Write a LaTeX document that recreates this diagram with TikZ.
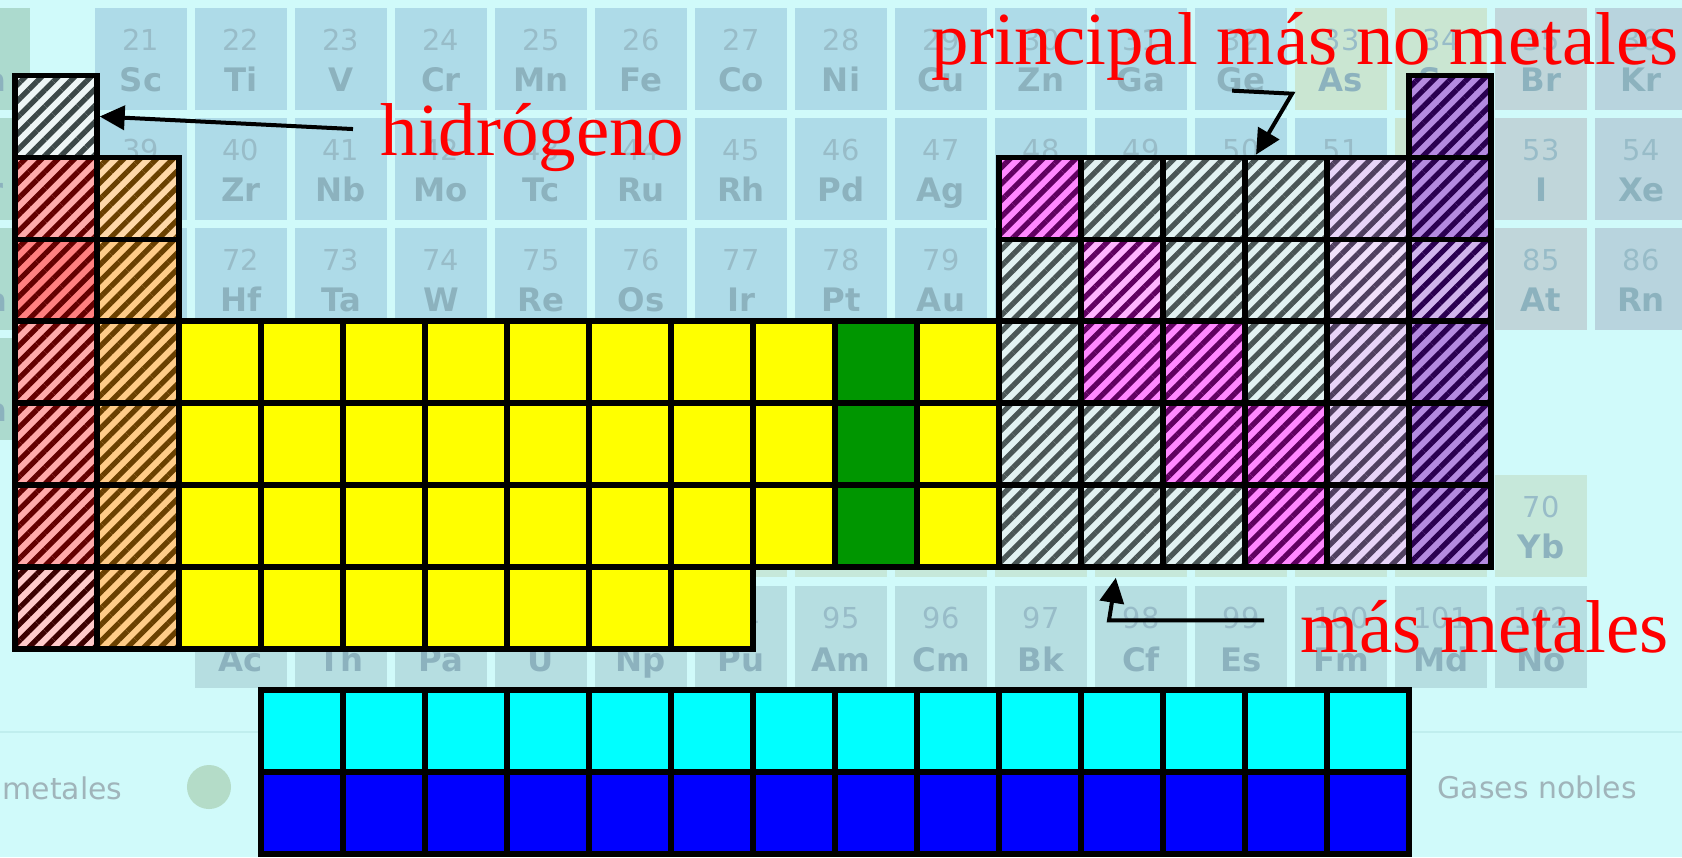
\documentclass[tikz,border=0pt]{standalone}
\usepackage{fontspec}
\setmainfont{Liberation Serif}
\newfontfamily\tablefont{DejaVu Sans}
\usetikzlibrary{arrows.meta, patterns.meta}

\definecolor{sky}{RGB}{208,250,250}
\definecolor{bgA}{RGB}{174,219,232}
\definecolor{bgB}{RGB}{202,230,210}
\definecolor{bgC}{RGB}{192,214,218}
\definecolor{bgD}{RGB}{184,212,222}
\definecolor{bgE}{RGB}{172,218,206}
\definecolor{bgLa}{RGB}{198,232,218}
\definecolor{bgAc}{RGB}{182,222,225}
\definecolor{bgnum}{RGB}{152,188,200}
\definecolor{bgsym}{RGB}{140,178,190}
\definecolor{legendtext}{RGB}{160,180,186}
\definecolor{dotgreen}{RGB}{180,220,200}
\definecolor{sepline}{RGB}{192,238,238}
\definecolor{leafgreen}{RGB}{0,150,0}
\definecolor{cellyellow}{RGB}{255,255,0}
\definecolor{cellcyan}{RGB}{0,255,255}
\definecolor{cellblue}{RGB}{0,0,255}
% hatched cells: fill / line colours
\definecolor{hfill}{RGB}{238,246,246}
\definecolor{hline}{RGB}{60,72,72}
\definecolor{pinkA}{RGB}{255,170,170}
\definecolor{pinkB}{RGB}{255,202,202}
\definecolor{redA}{RGB}{255,128,128}
\definecolor{redD}{RGB}{100,0,0}
\definecolor{redE}{RGB}{60,0,0}
\definecolor{orangeA}{RGB}{255,216,168}
\definecolor{orangeB}{RGB}{255,204,136}
\definecolor{brownD}{RGB}{106,64,0}
\definecolor{fm}{RGB}{255,136,255}
\definecolor{lm}{RGB}{96,0,96}
\definecolor{fn}{RGB}{255,180,255}
\definecolor{ln}{RGB}{96,0,96}
\definecolor{fg}{RGB}{226,242,242}
\definecolor{lg}{RGB}{74,86,86}
\definecolor{fl}{RGB}{232,212,248}
\definecolor{ll}{RGB}{80,64,96}
\definecolor{fk}{RGB}{240,224,250}
\definecolor{lk}{RGB}{80,64,96}
\definecolor{fp}{RGB}{180,138,224}
\definecolor{lp}{RGB}{42,0,80}
\definecolor{fq}{RGB}{208,180,236}
\definecolor{lq}{RGB}{42,0,80}

\begin{document}
\begin{tikzpicture}[
    x=0.01cm, y=-0.01cm,
    cell/.style={draw, line width=0.055cm, minimum size=0.82cm, inner sep=0pt},
    hatch/.style 2 args={preaction={fill=#1},
        pattern={Lines[angle=45, distance=3.3pt, line width=1.5pt]}, pattern color=#2},
    tile/.style={minimum width=0.92cm, minimum height=1.02cm, inner sep=0pt},
    num/.style={font=\tablefont\fontsize{8.2pt}{9pt}\selectfont, text=bgnum,
        inner sep=0pt, text height=0.21cm, text depth=0pt},
    sym/.style={font=\tablefont\bfseries\fontsize{9.2pt}{10pt}\selectfont, text=bgsym,
        inner sep=0pt, text height=0.23cm, text depth=0pt},
    legend/.style={font=\tablefont\fontsize{8.5pt}{10pt}\selectfont, text=legendtext,
        inner sep=0pt, anchor=west},
    note/.style={font=\fontsize{21.3pt}{25pt}\selectfont, text=red, inner sep=0pt,
        anchor=base west},
    arrow/.style={-{Triangle[length=0.25cm, width=0.24cm]}, line width=0.04cm}
]
\useasboundingbox (0,0) rectangle (1682,857);
\clip (0,0) rectangle (1682,857);
\fill[sky] (0,0) rectangle (1682,857);

% faded table behind
\foreach \n/\s [count=\r from 0] in {20/Ca,38/Sr,56/Ba,88/Ra} {
  \node[tile, fill=bgE] (t-\n) at (-16, {59+\r*110}) {};
  \node[num] (n-\n) at ([yshift=0.19cm]t-\n.center) {\n};
  \node[sym] (s-\n) at ([yshift=-0.21cm]t-\n.center) {\s};
}
\foreach \n/\s/\c [count=\k from 3] in {21/Sc/bgA,22/Ti/bgA,23/V/bgA,24/Cr/bgA,25/Mn/bgA,
    26/Fe/bgA,27/Co/bgA,28/Ni/bgA,29/Cu/bgA,30/Zn/bgA,31/Ga/bgA,32/Ge/bgA,33/As/bgB,
    34/Se/bgB,35/Br/bgC,36/Kr/bgD} {
  \node[tile, fill=\c] (t-\n) at ({141+(\k-3)*100}, 59) {};
  \node[num] (n-\n) at ([yshift=0.19cm]t-\n.center) {\n};
  \node[sym] (s-\n) at ([yshift=-0.21cm]t-\n.center) {\s};
}
\foreach \n/\s/\c [count=\k from 3] in {39/Y/bgA,40/Zr/bgA,41/Nb/bgA,42/Mo/bgA,43/Tc/bgA,
    44/Ru/bgA,45/Rh/bgA,46/Pd/bgA,47/Ag/bgA,48/Cd/bgA,49/In/bgA,50/Sn/bgA,51/Sb/bgA,
    52/Te/bgB,53/I/bgC,54/Xe/bgD} {
  \node[tile, fill=\c] (t-\n) at ({141+(\k-3)*100}, 169) {};
  \node[num] (n-\n) at ([yshift=0.19cm]t-\n.center) {\n};
  \node[sym] (s-\n) at ([yshift=-0.21cm]t-\n.center) {\s};
}
\node[tile, fill=bgA] (t-lant) at (141, 279) {};
\foreach \n/\s/\c [count=\k from 4] in {72/Hf/bgA,73/Ta/bgA,74/W/bgA,75/Re/bgA,76/Os/bgA,
    77/Ir/bgA,78/Pt/bgA,79/Au/bgA,80/Hg/bgA,81/Tl/bgA,82/Pb/bgA,83/Bi/bgA,84/Po/bgA,
    85/At/bgC,86/Rn/bgD} {
  \node[tile, fill=\c] (t-\n) at ({141+(\k-3)*100}, 279) {};
  \node[num] (n-\n) at ([yshift=0.19cm]t-\n.center) {\n};
  \node[sym] (s-\n) at ([yshift=-0.21cm]t-\n.center) {\s};
}
\foreach \n/\s [count=\k from 4] in {57/La,58/Ce,59/Pr,60/Nd,61/Pm,62/Sm,63/Eu,64/Gd,
    65/Tb,66/Dy,67/Ho,68/Er,69/Tm,70/Yb} {
  \node[tile, fill=bgLa] (t-\n) at ({141+(\k-3)*100}, 526) {};
  \node[num] (n-\n) at ([yshift=0.19cm]t-\n.center) {\n};
  \node[sym] (s-\n) at ([yshift=-0.21cm]t-\n.center) {\s};
}
\foreach \n/\s [count=\k from 4] in {89/Ac,90/Th,91/Pa,92/U,93/Np,94/Pu,95/Am,96/Cm,
    97/Bk,98/Cf,99/Es,100/Fm,101/Md,102/No} {
  \node[tile, fill=bgAc] (t-\n) at ({141+(\k-3)*100}, 637) {};
  \node[num] (n-\n) at ([yshift=0.19cm]t-\n.center) {\n};
  \node[sym] (s-\n) at ([yshift=-0.23cm]t-\n.center) {\s};
}
\draw[sepline, line width=0.02cm] (0,732) -- (1682,732);
\node[legend] (lgmet) at (2,788) {metales};
\node[circle, fill=dotgreen, minimum size=0.44cm, inner sep=0pt] (lgdot) at (209,787) {};
\node[legend] (lgnob) at (1437,787) {Gases nobles};

% hydrogen, groups 1 and 2
\node[cell, hatch={hfill}{hline}] (c-1-1) at (56,116.5) {};
\foreach \r/\fa/\la/\fb in {2/pinkA/redD/orangeA, 3/redA/redD/orangeB, 4/pinkA/redD/orangeB,
    5/pinkA/redD/orangeB, 6/pinkA/redD/orangeB, 7/pinkB/redE/orangeB} {
  \node[cell, hatch={\fa}{\la}] (c-\r-1) at (56, {116.5+(\r-1)*81.9}) {};
  \node[cell, hatch={\fb}{brownD}] (c-\r-2) at (138, {116.5+(\r-1)*81.9}) {};
}

% transition block
\foreach \r in {4,5,6} {
  \foreach \k in {3,4,5,6,7,8,9,10,12}
    \node[cell, fill=cellyellow] (c-\r-\k) at ({55.8+(\k-1)*82}, {116.5+(\r-1)*81.9}) {};
  \node[cell, fill=leafgreen] (c-\r-11) at ({55.8+10*82}, {116.5+(\r-1)*81.9}) {};
}
\foreach \k in {3,...,9}
  \node[cell, fill=cellyellow] (c-7-\k) at ({55.8+(\k-1)*82}, {116.5+6*81.9}) {};

% p block
\node[cell, hatch={fp}{lp}] (c-1-18) at ({55.8+17*82}, 116.5) {};
\foreach \r/\row in {2/{m,g,g,g,l,p}, 3/{g,n,g,g,k,q}, 4/{g,m,m,g,l,p},
    5/{g,g,m,m,l,p}, 6/{g,g,g,m,l,p}} {
  \foreach \t [count=\k from 13] in \row
    \node[cell, hatch={f\t}{l\t}] (c-\r-\k) at ({55.8+(\k-1)*82}, {116.5+(\r-1)*81.9}) {};
}

% f block
\foreach \k in {4,...,17} {
  \node[cell, fill=cellcyan] (f-1-\k) at ({55.8+(\k-1)*82}, 731) {};
  \node[cell, fill=cellblue] (f-2-\k) at ({55.8+(\k-1)*82}, 813) {};
}

% notes
\node[note] (hid) at (380,155) {hidrógeno};
\node[note] (pri) at (931,64) {principal más no metales};
\node[note] (mas) at (1300,652) {más metales};

\draw[arrow] ([shift={(-27,-8)}]hid.west) -- (c-1-1.east);
\draw[arrow] ([shift={(-73,10)}]pri.south) -- ([shift={(-13,13)}]pri.south)
    -- ([xshift=0.14cm]c-2-16.north west);
\draw[arrow] ([shift={(-36,-6)}]mas.west) -- ++(-155,0) -- ([shift={(-6,8)}]c-6-14.south);
\end{tikzpicture}
\end{document}
